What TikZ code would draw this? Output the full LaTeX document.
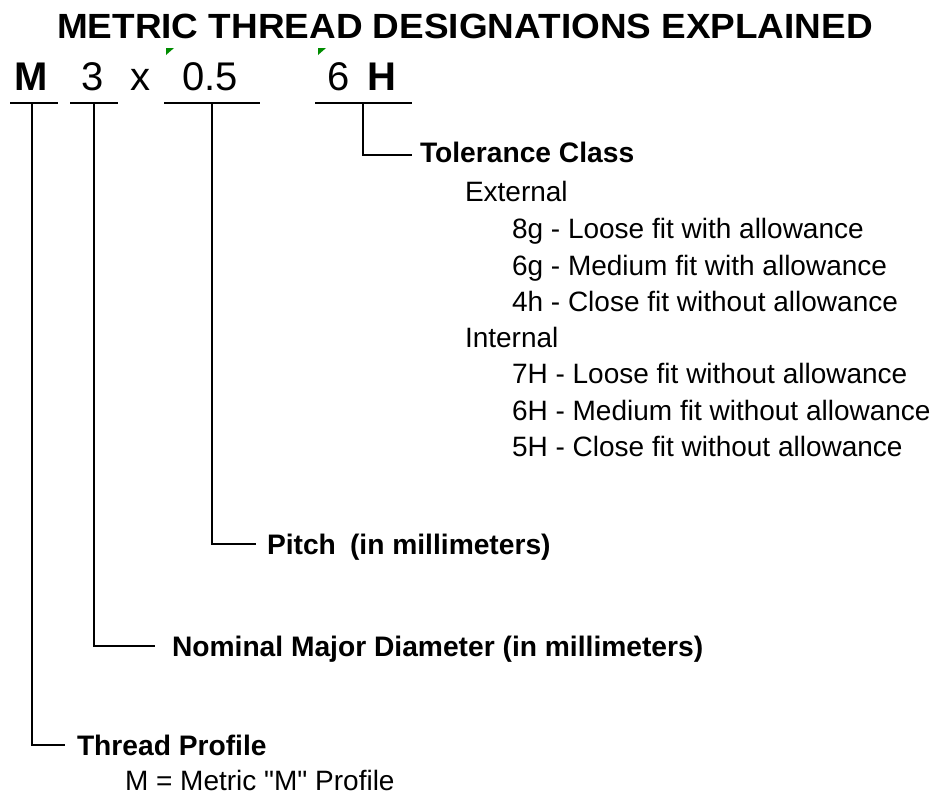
\documentclass[tikz,border=0pt]{standalone}
\usepackage{fontspec}
\setmainfont{Liberation Sans}
\newfontfamily\titlefam{Liberation Sans}[FakeStretch=1.055]
\newfontfamily\plainfam{Liberation Sans}[Ligatures=TeXOff]
\definecolor{markgreen}{RGB}{0,140,0}
\begin{document}
\begin{tikzpicture}[x=1pt,y=-1pt,
  txt/.style={anchor=base west,inner sep=0pt,outer sep=0pt},
  titlefont/.style={font=\titlefam\fontsize{35}{40}\selectfont\bfseries},
  bigbold/.style={font=\fontsize{40}{44}\selectfont\bfseries},
  bigreg/.style={font=\fontsize{40}{44}\selectfont},
  lblbold/.style={font=\fontsize{28.2}{32}\selectfont\bfseries},
  lblreg/.style={font=\fontsize{28}{31}\selectfont},
  conn/.style={line width=1.3pt},
  marker/.style={fill=markgreen,draw=none}]
\useasboundingbox (0,0) rectangle (930,795);
% title
\node[txt,titlefont,anchor=base] (title) at (465,38) {METRIC THREAD DESIGNATIONS EXPLAINED};
% designation characters
\node[txt,bigbold] (cM) at (14,90) {M};
\node[txt,bigreg] (c3) at (81,90) {3};
\node[txt,bigreg] (cx) at (130,90) {x};
\node[txt,bigreg] (c05) at (182,90) {0.5};
\node[txt,bigreg] (c6) at (327,90) {6};
\node[txt,bigbold] (cH) at (367,90) {H};
% comment markers
\fill[marker] (166,48) -- (174,48) -- (166,55) -- cycle;
\fill[marker] (318,48) -- (326,48) -- (318,55) -- cycle;
% underline coordinates
\coordinate (uMa) at (10,103); \coordinate (uMb) at (58,103);
\coordinate (u3a) at (70,103); \coordinate (u3b) at (118,103);
\coordinate (u05a) at (164,103); \coordinate (u05b) at (260,103);
\coordinate (u6a) at (315,103); \coordinate (u6b) at (412,103);
\coordinate (tM) at (32,103); \coordinate (t3) at (94,103);
\coordinate (t05) at (212,103); \coordinate (t6) at (363,103);
\coordinate (eM) at (65,745); \coordinate (e3) at (155,646);
\coordinate (e05) at (256,544); \coordinate (e6) at (412,155);
\draw[conn] (uMa) -- (uMb);
\draw[conn] (u3a) -- (u3b);
\draw[conn] (u05a) -- (u05b);
\draw[conn] (u6a) -- (u6b);
\draw[conn] (tM) |- (eM);
\draw[conn] (t3) |- (e3);
\draw[conn] (t05) |- (e05);
\draw[conn] (t6) |- (e6);
% labels
\node[txt,lblbold] (tol) at (420,162) {Tolerance Class};
\node[txt,lblreg] (ext) at (465,201) {External};
\node[txt,lblreg] (e8g) at (512,238) {8g - Loose fit with allowance};
\node[txt,lblreg] (e6g) at (512,275) {6g - Medium fit with allowance};
\node[txt,lblreg] (e4h) at (512,311) {4h - Close fit without allowance};
\node[txt,lblreg] (int) at (465,347) {Internal};
\node[txt,lblreg] (i7H) at (512,383) {7H - Loose fit without allowance};
\node[txt,lblreg] (i6H) at (512,420) {6H - Medium fit without allowance};
\node[txt,lblreg] (i5H) at (512,456) {5H - Close fit without allowance};
\node[txt,lblbold] (pitch) at (267,554) {Pitch\hspace{0.5em}(in millimeters)};
\node[txt,lblbold] (nom) at (172,656) {Nominal Major Diameter (in millimeters)};
\node[txt,lblbold] (thr) at (77,755) {Thread Profile};
\node[txt,lblreg] (mprof) at (125,790) {\plainfam M = Metric "M" Profile};
\end{tikzpicture}
\end{document}
